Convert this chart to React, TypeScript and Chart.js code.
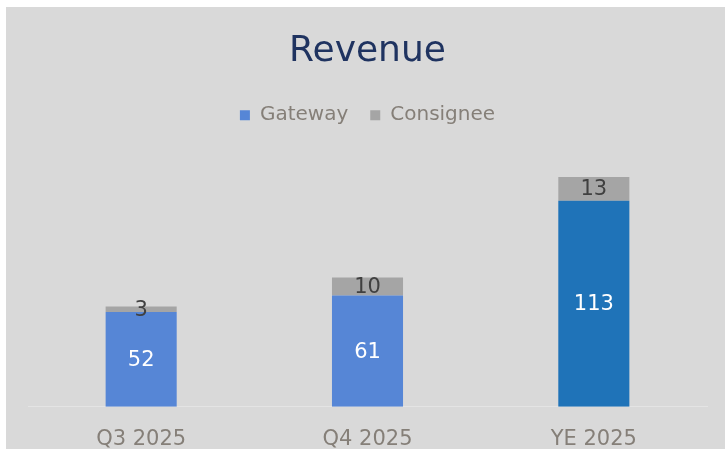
import React, { useEffect, useRef } from "react";
import { Chart, registerables } from "chart.js";

Chart.register(...registerables);

const categories = ["Q3 2025", "Q4 2025", "YE 2025"];
const gatewayValues = [52, 61, 113];
const consigneeValues = [3, 10, 13];
const seriesNames = ["Gateway", "Consignee"];
const titleText = "Revenue";

const FONT = "'DejaVu Sans', sans-serif";

const valueLabels = {
  id: "valueLabels",
  afterDatasetsDraw(chart: any) {
    const ctx = chart.ctx;
    ctx.save();
    ctx.font = `21px ${FONT}`;
    ctx.textAlign = "center";
    ctx.textBaseline = "middle";
    chart.data.datasets.forEach((ds: any, di: number) => {
      const meta = chart.getDatasetMeta(di);
      meta.data.forEach((el: any, i: number) => {
        const v = ds.data[i];
        const cy = (el.y + el.base) / 2;
        ctx.fillStyle = di === 0 ? "#ffffff" : "#404040";
        ctx.fillText(String(v), el.x, cy + 1);
      });
    });
    ctx.restore();
  },
};

export default function App() {
  const ref = useRef<HTMLCanvasElement | null>(null);
  useEffect(() => {
    if (!ref.current) return;
    const chart = new Chart(ref.current, {
      type: "bar",
      data: {
        labels: categories,
        datasets: [
          {
            label: seriesNames[0],
            data: gatewayValues,
            backgroundColor: (c: any) => (c.dataIndex === 2 ? "#1f73b8" : "#5686d6"),
            borderWidth: 0,
            barPercentage: 0.314,
            categoryPercentage: 1,
          },
          {
            label: seriesNames[1],
            data: consigneeValues,
            backgroundColor: "#a5a5a5",
            borderWidth: 0,
            barPercentage: 0.314,
            categoryPercentage: 1,
          },
        ],
      },
      options: {
        responsive: false,
        animation: false,
        layout: { padding: { left: 22, right: 18, top: 0, bottom: -15 } },
        plugins: {
          title: {
            display: true,
            text: titleText,
            color: "#1f3360",
            font: { size: 36, family: FONT, weight: "normal" },
            padding: { top: 23, bottom: 10 },
          },
          legend: {
            display: true,
            position: "top",
            labels: {
              boxWidth: 10,
              boxHeight: 10,
              color: "#857f78",
              font: { size: 20, family: FONT },
              padding: 22,
            },
          },
          tooltip: { enabled: false },
        },
        scales: {
          x: {
            stacked: true,
            grid: { display: false },
            border: { display: true, color: "#e4e4e4", width: 1 },
            ticks: { color: "#857f78", font: { size: 21, family: FONT }, padding: 12 },
          },
          y: {
            stacked: true,
            display: false,
            min: 0,
            max: 149,
          },
        },
      },
      plugins: [valueLabels],
    });
    return () => chart.destroy();
  }, []);
  return (
    <div
      style={{
        position: "absolute",
        left: 6,
        top: 7,
        width: 719,
        height: 442,
        background: "#d9d9d9",
      }}
    >
      <canvas ref={ref} width={719} height={442} />
    </div>
  );
}
